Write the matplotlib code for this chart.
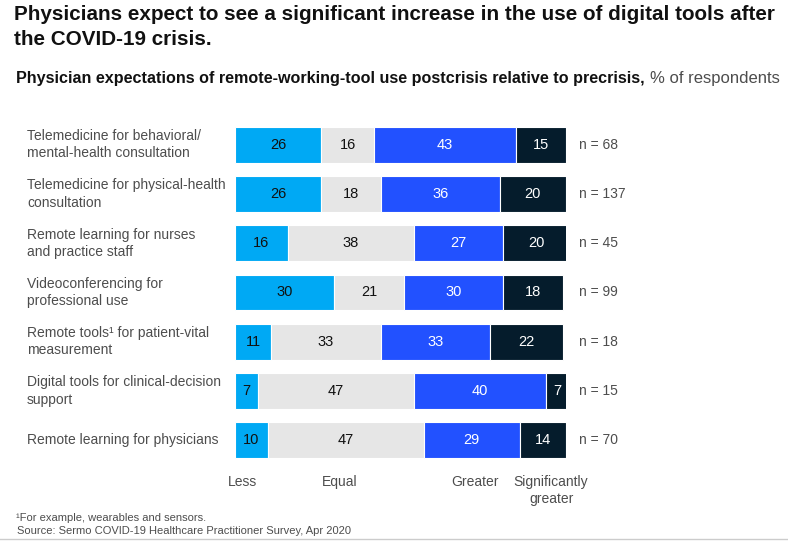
import numpy as np
import matplotlib.pyplot as plt
import matplotlib.transforms as mtransforms


# --------------------------------------------------
# Data
# --------------------------------------------------

categories = [
    "Telemedicine for behavioral/\nmental-health consultation",
    "Telemedicine for physical-health\nconsultation",
    "Remote learning for nurses\nand practice staff",
    "Videoconferencing for\nprofessional use",
    "Remote tools\u00b9 for patient-vital\nmeasurement",
    "Digital tools for clinical-decision\nsupport",
    "Remote learning for physicians",
]

less = [26, 26, 16, 30, 11, 7, 10]
equal = [16, 18, 38, 21, 33, 47, 47]
greater = [43, 36, 27, 30, 33, 40, 29]
sig_greater = [15, 20, 20, 18, 22, 7, 14]
n_resp = [68, 137, 45, 99, 18, 15, 70]

series_names = ["Less", "Equal", "Greater", "Significantly\ngreater"]


# --------------------------------------------------
# Style
# --------------------------------------------------

colors = ["#00A9F4", "#E6E6E6", "#2251FF", "#051C2C"]
text_colors = ["#111111", "#111111", "white", "white"]
label_grey = "#4d4d4d"
series_label_x = [2.4, 31.7, 72.5, 95.5]

plt.rcParams["font.family"] = ["Liberation Sans", "DejaVu Sans"]

fig = plt.figure(figsize=(7.88, 5.41), dpi=100)
W, H = 788, 541

# axes placed in pixel coords: x 235..566, y 120..465
ax = fig.add_axes([235 / W, 1 - 465 / H, (566 - 235) / W, (465 - 120) / H])

y = np.arange(len(categories))
data = np.array([less, equal, greater, sig_greater], dtype=float)
left = np.zeros(len(categories))

for i in range(4):
    ax.barh(y, data[i], left=left, height=0.73, color=colors[i],
            edgecolor="white", linewidth=0.8)
    for j in range(len(categories)):
        ax.text(left[j] + data[i][j] / 2, y[j], f"{int(data[i][j])}",
                ha="center", va="center", fontsize=10.5, color=text_colors[i])
    left = left + data[i]

ax.set_xlim(0, 100)
ax.set_ylim(len(categories) - 0.5, -0.5)
ax.axis("off")

trans = mtransforms.blended_transform_factory(fig.transFigure, ax.transData)

for j, cat in enumerate(categories):
    fig.text(27 / W, j, cat, transform=trans, ha="left", va="center",
             fontsize=10, color=label_grey, linespacing=1.3)
    ax.text(104, j, f"n = {n_resp[j]}", ha="left", va="center",
            fontsize=10, color=label_grey)

# series labels under the bars
for name, cx in zip(series_names, series_label_x):
    ax.text(cx, len(categories) - 0.5 + 0.2, name, ha="center", va="top",
            fontsize=10, color=label_grey, linespacing=1.3)


# --------------------------------------------------
# Titles and footnotes
# --------------------------------------------------

fig.text(14 / W, 1 - 5 / H,
         "Physicians expect to see a significant increase in the use of digital tools after\nthe COVID-19 crisis.",
         ha="left", va="top", fontsize=14.9, fontweight="bold", color="#111111",
         linespacing=1.4)

sub = fig.text(16 / W, 1 - 78 / H,
               "Physician expectations of remote-working-tool use postcrisis relative to precrisis,",
               ha="left", va="center", fontsize=11.6, fontweight="bold", color="#111111")
fig.canvas.draw()
bb = sub.get_window_extent()
fig.text(bb.x1 / W + 5 / W, 1 - 78 / H, "% of respondents", ha="left", va="center",
         fontsize=12, color=label_grey)

fig.text(16 / W, 1 - 518 / H, "\u00b9For example, wearables and sensors.",
         ha="left", va="center", fontsize=8, color=label_grey)
fig.text(17 / W, 1 - 531 / H, "Source: Sermo COVID-19 Healthcare Practitioner Survey, Apr 2020",
         ha="left", va="center", fontsize=8, color=label_grey)

fig.add_artist(plt.Line2D([0, 1], [1 - 539 / H, 1 - 539 / H],
                          transform=fig.transFigure, color="#cccccc", linewidth=1))

plt.savefig("out.png", dpi=100)
plt.close(fig)
